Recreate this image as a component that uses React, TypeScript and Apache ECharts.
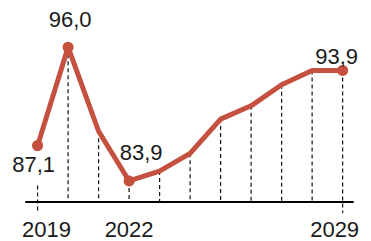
import React, { useEffect, useRef } from "react";
import * as echarts from "echarts";

const years = [2019, 2020, 2021, 2022, 2023, 2024, 2025, 2026, 2027, 2028, 2029];
const values = [87.1, 96.0, 88.4, 83.9, 84.8, 86.4, 89.5, 90.7, 92.6, 93.9, 93.9];
const valueLabels = ["87,1", "96,0", "", "83,9", "", "", "", "", "", "", "93,9"];
const tickYears = [2019, 2022, 2029];

const RED = "#c5503f";
const FONT = "'Liberation Sans Narrow', 'Liberation Sans', sans-serif";

const labelOffsets: Record<number, [number, number]> = {
  2019: [-4, 19],
  2020: [2, -28],
  2022: [12, -28],
  2029: [-6, -14],
};

export default function App() {
  const ref = useRef<HTMLDivElement>(null);
  useEffect(() => {
    if (!ref.current) return;
    const chart = echarts.init(ref.current, undefined, { renderer: "svg" });
    const yMin = 82;
    const lineData = years.map((y, i) => {
      const lab = valueLabels[i];
      return {
        value: [y, values[i]],
        symbolSize: lab ? 11 : 0,
        label: lab
          ? {
              show: true,
              position: "inside",
              offset: labelOffsets[y] || [0, -20],
              formatter: () => lab,
              fontFamily: FONT,
              fontSize: 22,
              color: "#1a1a1a",
              align: "center",
              verticalAlign: "middle",
            }
          : { show: false },
      };
    });
    chart.setOption({
      animation: false,
      grid: { left: 26, right: 18, top: 3, bottom: 39, containLabel: false, outerBoundsMode: "none" },
      xAxis: {
        type: "value",
        min: 2018.62,
        max: 2029.34,
        axisLine: { show: true, onZero: false, lineStyle: { color: "#000", width: 2 } },
        axisTick: { show: false },
        splitLine: { show: false },
        axisLabel: {
          show: true,
          customValues: tickYears,
          margin: 16,
          fontFamily: FONT,
          fontSize: 22,
          color: "#1a1a1a",
          formatter: (v: number) =>
            v === 2019 ? "{a|" + v + "}" : v === 2029 ? "{b|" + v + "}" : "{c|" + v + "}",
          rich: {
            a: { padding: [0, 0, 0, 18], fontFamily: FONT, fontSize: 22, color: "#1a1a1a" },
            b: { padding: [0, 16, 0, 0], fontFamily: FONT, fontSize: 22, color: "#1a1a1a" },
            c: { fontFamily: FONT, fontSize: 22, color: "#1a1a1a" },
          },
        },
      },
      yAxis: {
        type: "value",
        min: yMin,
        max: 100,
        show: false,
      },
      series: [
        {
          type: "custom",
          clip: false,
          z: 1,
          data: years.map((y, i) => [y, values[i], i]),
          renderItem: (params: any, api: any) => {
            const x = api.value(0);
            const v = api.value(1);
            const idx = api.value(2);
            const p = api.coord([x, v]);
            const b = api.coord([x, yMin]);
            let y1 = p[1];
            let y2 = b[1];
            if (idx === 0) {
              y1 = p[1] + 40;
              y2 = b[1] + 11;
            }
            if (idx === years.length - 1) y2 = b[1] + 11;
            return {
              type: "line",
              shape: { x1: p[0], y1, x2: p[0], y2 },
              style: { stroke: "#111", lineWidth: 1.2, lineDash: [4, 3] },
            };
          },
        },
        {
          type: "line",
          z: 3,
          data: lineData,
          symbol: "circle",
          showSymbol: true,
          itemStyle: { color: RED },
          lineStyle: { color: RED, width: 5, cap: "round", join: "round" },
        },
      ],
    });
    return () => chart.dispose();
  }, []);
  return (
    <div
      ref={ref}
      style={{ position: "absolute", left: 0, top: 0, width: 371, height: 241 }}
    />
  );
}
